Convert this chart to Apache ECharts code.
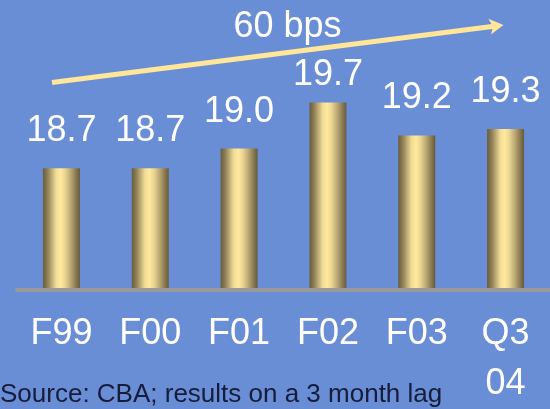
<!DOCTYPE html>
<html>
<head>
<meta charset="utf-8">
<script src="https://cdn.jsdelivr.net/npm/echarts@6/dist/echarts.min.js"></script>
<style>
  html, body { margin: 0; padding: 0; background: #698ED6; }
  #chart { width: 550px; height: 409px; }
</style>
</head>
<body>
<div id="chart"></div>
<script>
// Periods on the category axis
const categories = ['F99', 'F00', 'F01', 'F02', 'F03', 'Q3\n04'];
// Ratio per period (%)
const ratios = [18.7, 18.7, 19.0, 19.7, 19.2, 19.3];
// Trend annotation and footnote
const trendText = '60 bps';
const sourceText = 'Source: CBA; results on a 3 month lag';

const FONT = '"Liberation Sans", Arial, sans-serif';
const peak = Math.max(...ratios);

// Cylinder-like shading across each bar
const barFill = {
  type: 'linear', x: 0, y: 0, x2: 1, y2: 0,
  colorStops: [
    { offset: 0.00, color: '#6A5D3C' },
    { offset: 0.12, color: '#8C7D53' },
    { offset: 0.25, color: '#C3B07A' },
    { offset: 0.36, color: '#F2DD96' },
    { offset: 0.48, color: '#FFE89E' },
    { offset: 0.60, color: '#EAD592' },
    { offset: 0.75, color: '#BBA874' },
    { offset: 0.88, color: '#8E7E55' },
    { offset: 1.00, color: '#67593A' }
  ]
};

// The tallest bar keeps its label tucked closer, below the trend arrow
const barData = ratios.map(v => v === peak ? { value: v, label: { distance: 9 } } : v);

const chart = echarts.init(document.getElementById('chart'), null, { renderer: 'canvas' });

chart.setOption({
  backgroundColor: '#698ED6',
  animation: false,
  grid: { left: 17, right: -4, top: 0, bottom: 120, containLabel: false },
  xAxis: {
    type: 'category',
    data: categories,
    offset: 2,
    axisLine: { show: true, lineStyle: { color: '#9A9A9A', width: 4 } },
    axisTick: { show: false },
    axisLabel: {
      color: '#FFFFFF',
      fontFamily: FONT,
      fontSize: 36,
      lineHeight: 50,
      margin: 19,
      interval: 0
    }
  },
  yAxis: {
    type: 'value',
    min: 16.88,
    max: 21.26,
    show: false,
    splitLine: { show: false }
  },
  series: [{
    type: 'bar',
    data: barData,
    barWidth: 37,
    itemStyle: { color: barFill },
    label: {
      show: true,
      position: 'top',
      distance: 19,
      color: '#FFFFFF',
      fontFamily: FONT,
      fontSize: 36,
      formatter: p => Number(p.value).toFixed(1)
    }
  }],
  graphic: [
    {
      type: 'line',
      shape: { x1: 52, y1: 82.5, x2: 494, y2: 26.3 },
      style: { stroke: '#FFE699', lineWidth: 5, lineCap: 'butt' },
      silent: true
    },
    {
      type: 'polygon',
      shape: { points: [[503.5, 25], [488.3, 18.8], [493, 26.6], [491, 34.4]] },
      style: { fill: '#FFE699' },
      silent: true
    },
    {
      type: 'text',
      style: {
        text: trendText,
        x: 287.5, y: 9,
        align: 'center', verticalAlign: 'top',
        font: '36px ' + FONT,
        fill: '#FFFFFF'
      },
      silent: true
    },
    {
      type: 'text',
      style: {
        text: sourceText,
        x: 0, y: 382,
        align: 'left', verticalAlign: 'top',
        font: '26px ' + FONT,
        fill: '#161C3A'
      },
      silent: true
    }
  ]
});
</script>
</body>
</html>
